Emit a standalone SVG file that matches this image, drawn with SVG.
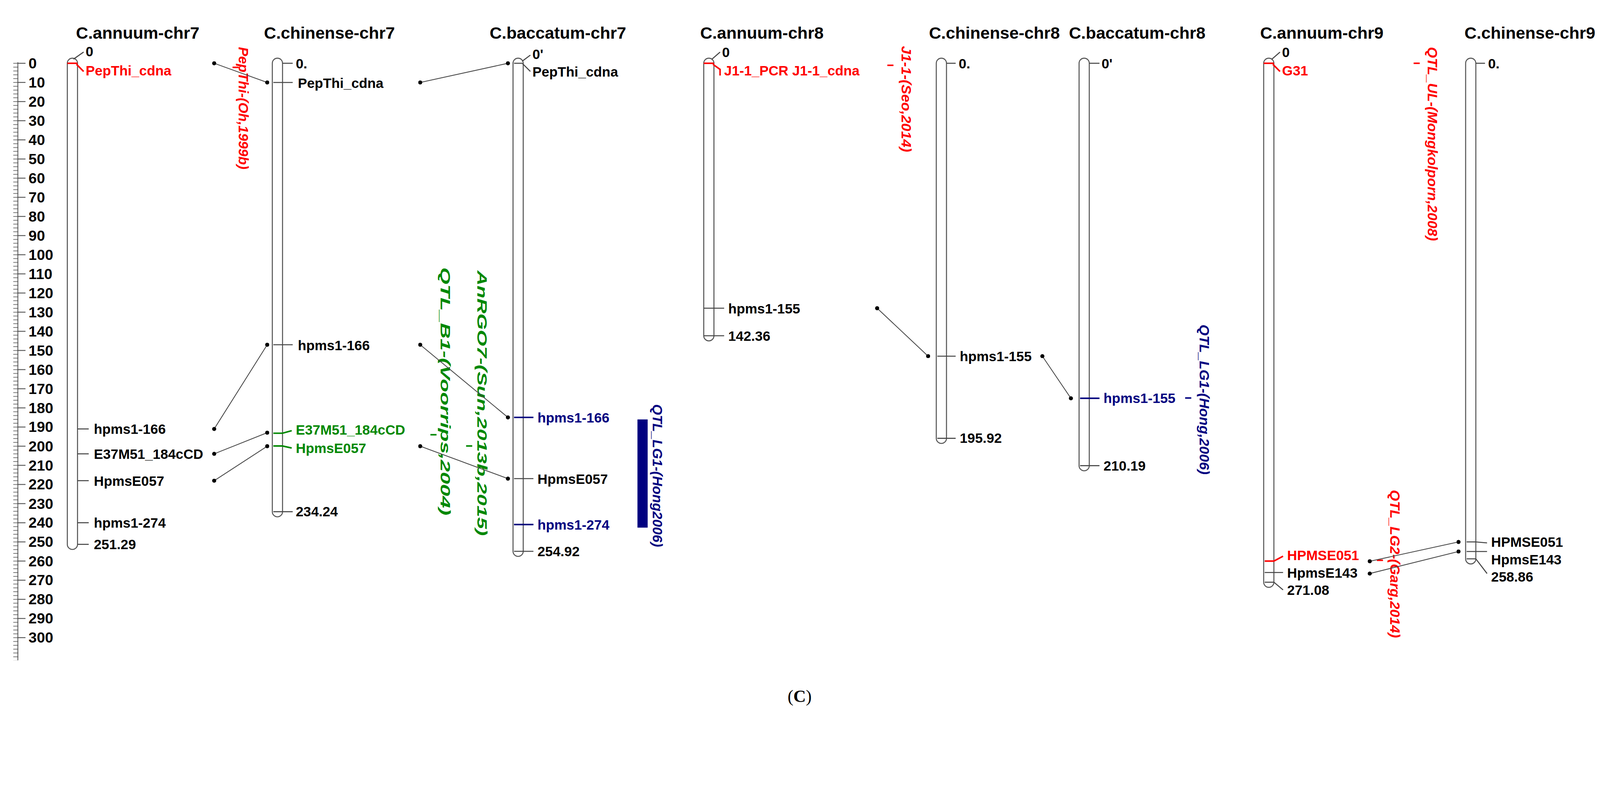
<svg xmlns="http://www.w3.org/2000/svg" width="4527" height="2057" viewBox="0 0 4527 2057">
<style>
text{font-family:"Liberation Sans",Arial,sans-serif;font-weight:bold;font-size:13.5px;fill:#000}
.t{font-size:16.5px}
.n{font-size:14.5px}
.r{fill:#f00}.g{fill:#080}.b{fill:#000080}
.q{font-style:italic;font-size:13.5px}
.ch{fill:#fff;stroke:#555;stroke-width:1}
.k{stroke:#444;stroke-width:1;fill:none}
.kr{stroke:#f00;stroke-width:1.5}.kg{stroke:#080;stroke-width:1.5}.kb{stroke:#000080;stroke-width:1.5}
.c{stroke:#444;stroke-width:0.8}
</style>
<defs>
<pattern id="mn" width="10" height="3.752" patternUnits="userSpaceOnUse" x="0" y="61.7"><rect x="0" y="0" width="10" height="0.6" fill="#555"/></pattern>
<pattern id="mj" width="20" height="18.76" patternUnits="userSpaceOnUse" x="0" y="61.6"><rect x="0" y="0" width="20" height="0.8" fill="#444"/></pattern>
<marker id="d" viewBox="0 0 4 4" refX="2" refY="2" markerWidth="4" markerHeight="4" markerUnits="userSpaceOnUse"><circle cx="2" cy="2" r="2" fill="#000"/></marker>
</defs>
<rect width="4527" height="2057" fill="#fff"/>
<g transform="scale(2.611)">
<g id="ruler">
<rect x="13" y="61" width="5" height="586" fill="url(#mn)"/>
<rect x="17" y="61" width="8" height="570" fill="url(#mj)"/>
<line x1="17.5" y1="61" x2="17.5" y2="647" stroke="#555" stroke-width="0.8"/>
<g class="n">
<text class="n" x="28" y="67">0</text><text class="n" x="28" y="85.8">10</text><text class="n" x="28" y="104.5">20</text><text class="n" x="28" y="123.3">30</text><text class="n" x="28" y="142">40</text><text class="n" x="28" y="160.8">50</text><text class="n" x="28" y="179.6">60</text><text class="n" x="28" y="198.3">70</text><text class="n" x="28" y="217.1">80</text><text class="n" x="28" y="235.8">90</text><text class="n" x="28" y="254.6">100</text><text class="n" x="28" y="273.4">110</text><text class="n" x="28" y="292.1">120</text><text class="n" x="28" y="310.9">130</text><text class="n" x="28" y="329.6">140</text><text class="n" x="28" y="348.4">150</text><text class="n" x="28" y="367.2">160</text><text class="n" x="28" y="385.9">170</text><text class="n" x="28" y="404.7">180</text><text class="n" x="28" y="423.4">190</text><text class="n" x="28" y="442.2">200</text><text class="n" x="28" y="461">210</text><text class="n" x="28" y="479.7">220</text><text class="n" x="28" y="498.5">230</text><text class="n" x="28" y="517.2">240</text><text class="n" x="28" y="536">250</text><text class="n" x="28" y="554.8">260</text><text class="n" x="28" y="573.5">270</text><text class="n" x="28" y="592.3">280</text><text class="n" x="28" y="611">290</text><text class="n" x="28" y="629.8">300</text>
</g>
</g>

<g id="annuum7">
<text class="t" x="135" y="38" text-anchor="middle">C.annuum-chr7</text>
<rect class="ch" x="66" y="57" width="10" height="481.4" rx="5"/>
<line class="kr" x1="66" y1="62" x2="76" y2="62"/>
<path class="k" d="M72 58 L82 51"/><text x="84" y="55">0</text>
<path class="kr" d="M75 63 L82 70" fill="none"/><text class="r" x="84" y="74">PepThi_cdna</text>
<line class="k" x1="76" y1="420.3" x2="87" y2="420.3"/><text x="92" y="425">hpms1-166</text>
<line class="k" x1="76" y1="444.7" x2="87" y2="444.7"/><text x="92" y="449.5">E37M51_184cCD</text>
<line class="k" x1="76" y1="471" x2="87" y2="471"/><text x="92" y="476">HpmsE057</text>
<line class="k" x1="76" y1="512.2" x2="87" y2="512.2"/><text x="92" y="517">hpms1-274</text>
<line class="k" x1="76" y1="533.4" x2="87" y2="533.4"/><text x="92" y="538">251.29</text>
</g>

<g id="qtl-oh">
<line class="kr" x1="228" y1="66" x2="234" y2="66" stroke-width="0.7"/>
<text class="q r" transform="translate(234,46) rotate(90)" textLength="120" lengthAdjust="spacingAndGlyphs">PepThi-(Oh,1999b)</text>
</g>

<g id="chinense7">
<text class="t" x="323" y="38" text-anchor="middle">C.chinense-chr7</text>
<rect class="ch" x="267" y="57" width="10" height="449.4" rx="5"/>
<line class="k" x1="277" y1="62" x2="287" y2="62"/><text x="290" y="67">0.</text>
<line class="k" x1="268" y1="80.8" x2="287" y2="80.8"/><text x="292" y="86">PepThi_cdna</text>
<line class="k" x1="268" y1="337.8" x2="287" y2="337.8"/><text x="292" y="343">hpms1-166</text>
<path class="kg" d="M268 424.5 L277 424.5 L286 422" fill="none"/><text class="g" x="290" y="426">E37M51_184cCD</text>
<path class="kg" d="M268 437 L277 437 L286 439" fill="none"/><text class="g" x="290" y="444">HpmsE057</text>
<line class="k" x1="268" y1="501.4" x2="287" y2="501.4"/><text x="290" y="506">234.24</text>
</g>

<g id="qtl-b1">
<line class="kg" x1="422" y1="426" x2="428" y2="426" stroke-width="0.7"/>
<text class="q g" transform="translate(432,262) rotate(90)" textLength="243" lengthAdjust="spacingAndGlyphs">QTL_B1-(Voorrips,2004)</text>
<line class="kg" x1="457" y1="437" x2="463" y2="437" stroke-width="0.7"/>
<text class="q g" transform="translate(468,265) rotate(90)" textLength="260" lengthAdjust="spacingAndGlyphs">AnRGO7-(Sun,2013b,2015)</text>
</g>

<g id="baccatum7">
<text class="t" x="547" y="38" text-anchor="middle">C.baccatum-chr7</text>
<rect class="ch" x="503" y="57" width="10" height="488.2" rx="5"/>
<line class="k" x1="504" y1="62" x2="512" y2="62"/>
<path class="k" d="M512 60 L520 54"/><text x="522" y="58">0'</text>
<path class="k" d="M512 62 L520 70"/><text x="522" y="75">PepThi_cdna</text>
<line class="kb" x1="504" y1="409" x2="523" y2="409"/><text class="b" x="527" y="414">hpms1-166</text>
<line class="k" x1="504" y1="469" x2="523" y2="469"/><text x="527" y="474">HpmsE057</text>
<line class="kb" x1="504" y1="514" x2="523" y2="514"/><text class="b" x="527" y="519">hpms1-274</text>
<line class="k" x1="504" y1="540.2" x2="523" y2="540.2"/><text x="527" y="545">254.92</text>
</g>

<g id="qtl-lg1-7">
<rect x="625" y="411" width="10" height="106" fill="#000080"/>
<text class="q b" transform="translate(640,396) rotate(90)" textLength="140" lengthAdjust="spacingAndGlyphs">QTL_LG1-(Hong2006)</text>
</g>

<g id="annuum8">
<text class="t" x="747" y="38" text-anchor="middle">C.annuum-chr8</text>
<rect class="ch" x="690" y="57" width="10" height="277" rx="5"/>
<line class="kr" x1="690" y1="62" x2="700" y2="62"/>
<path class="k" d="M698 58 L706 51"/><text x="708" y="56">0</text>
<path class="kr" d="M699 63 L706 68 L706 74" fill="none"/><text class="r" x="710" y="74">J1-1_PCR J1-1_cdna</text>
<line class="k" x1="690" y1="302" x2="710" y2="302"/><text x="714" y="307">hpms1-155</text>
<line class="k" x1="690" y1="329" x2="710" y2="329"/><text x="714" y="334">142.36</text>
</g>

<g id="qtl-seo">
<line class="kr" x1="870" y1="64" x2="876" y2="64" stroke-width="0.7"/>
<text class="q r" transform="translate(884,45) rotate(90)" textLength="104" lengthAdjust="spacingAndGlyphs">J1-1-(Seo,2014)</text>
</g>

<g id="chinense8">
<text class="t" x="975" y="38" text-anchor="middle">C.chinense-chr8</text>
<rect class="ch" x="918" y="57" width="10" height="377.5" rx="5"/>
<line class="k" x1="928" y1="62" x2="937" y2="62"/><text x="940" y="67">0.</text>
<line class="k" x1="919" y1="349" x2="937" y2="349"/><text x="941" y="354">hpms1-155</text>
<line class="k" x1="919" y1="429.5" x2="937" y2="429.5"/><text x="941" y="434">195.92</text>
</g>

<g id="baccatum8">
<text class="t" x="1115" y="38" text-anchor="middle">C.baccatum-chr8</text>
<rect class="ch" x="1058" y="57" width="10" height="404.3" rx="5"/>
<line class="k" x1="1068" y1="62" x2="1078" y2="62"/><text x="1080" y="67">0'</text>
<line class="kb" x1="1059" y1="390.3" x2="1078" y2="390.3"/><text class="b" x="1082" y="395">hpms1-155</text>
<line class="k" x1="1059" y1="456.3" x2="1078" y2="456.3"/><text x="1082" y="461">210.19</text>
</g>

<g id="qtl-lg1-8">
<line class="kb" x1="1162" y1="390" x2="1168" y2="390" stroke-width="0.7"/>
<text class="q b" transform="translate(1176,318) rotate(90)" textLength="147" lengthAdjust="spacingAndGlyphs">QTL_LG1-(Hong,2006)</text>
</g>

<g id="annuum9">
<text class="t" x="1296" y="38" text-anchor="middle">C.annuum-chr9</text>
<rect class="ch" x="1239" y="57" width="10" height="518.5" rx="5"/>
<line class="kr" x1="1239" y1="62" x2="1249" y2="62"/>
<path class="k" d="M1247 58 L1255 51"/><text x="1257" y="56">0</text>
<path class="kr" d="M1248 63 L1255 70" fill="none"/><text class="r" x="1257" y="74">G31</text>
<path class="kr" d="M1240 549.8 L1249 549.8 L1258 545" fill="none"/><text class="r" x="1262" y="549">HPMSE051</text>
<path class="k" d="M1240 561 L1258 561" fill="none"/><text x="1262" y="566">HpmsE143</text>
<line class="k" x1="1240" y1="570.5" x2="1249" y2="570.5"/><text x="1262" y="583">271.08</text>
<path class="k" d="M1249 570.5 L1258 578"/>
</g>

<g id="qtl-ul">
<line class="kr" x1="1386" y1="62" x2="1392" y2="62" stroke-width="0.7"/>
<text class="q r" transform="translate(1400,46) rotate(90)" textLength="190" lengthAdjust="spacingAndGlyphs">QTL_UL-(Mongkolporn,2008)</text>
<line class="kr" x1="1350" y1="549" x2="1356" y2="549" stroke-width="0.7"/>
<text class="q r" transform="translate(1363,480) rotate(90)" textLength="145" lengthAdjust="spacingAndGlyphs">QTL_LG2-(Garg,2014)</text>
</g>

<g id="chinense9">
<text class="t" x="1500" y="38" text-anchor="middle">C.chinense-chr9</text>
<rect class="ch" x="1437" y="57" width="10" height="495.6" rx="5"/>
<line class="k" x1="1447" y1="62" x2="1456" y2="62"/><text x="1459" y="67">0.</text>
<line class="k" x1="1438" y1="531" x2="1447" y2="531"/>
<path class="k" d="M1447 531 L1458 532" fill="none"/><text x="1462" y="536">HPMSE051</text>
<line class="k" x1="1438" y1="540.4" x2="1458" y2="540.4"/><text x="1462" y="553">HpmsE143</text>
<line class="k" x1="1438" y1="547.6" x2="1447" y2="547.6"/>
<path class="k" d="M1447 547.6 L1458 562"/><text x="1462" y="570">258.86</text>
</g>

<g id="connectors" class="c" marker-start="url(#d)" marker-end="url(#d)">
<line x1="210" y1="62" x2="262" y2="80.8"/>
<line x1="210" y1="420.3" x2="262" y2="337.8"/>
<line x1="210" y1="444.7" x2="262" y2="424"/>
<line x1="210" y1="471" x2="262" y2="437.2"/>
<line x1="412" y1="80.8" x2="498" y2="62"/>
<line x1="412" y1="337.8" x2="498" y2="409"/>
<line x1="412" y1="437.2" x2="498" y2="469"/>
<line x1="860" y1="302" x2="910" y2="349"/>
<line x1="1022" y1="349" x2="1050" y2="390.3"/>
<line x1="1343" y1="550" x2="1430" y2="531"/>
<line x1="1343" y1="562" x2="1430" y2="540.4"/>
</g>

<text x="784" y="688" text-anchor="middle" style="font-family:'Liberation Serif',serif;font-weight:normal;font-size:17px">(<tspan font-weight="bold">C</tspan>)</text>
</g>
</svg>
